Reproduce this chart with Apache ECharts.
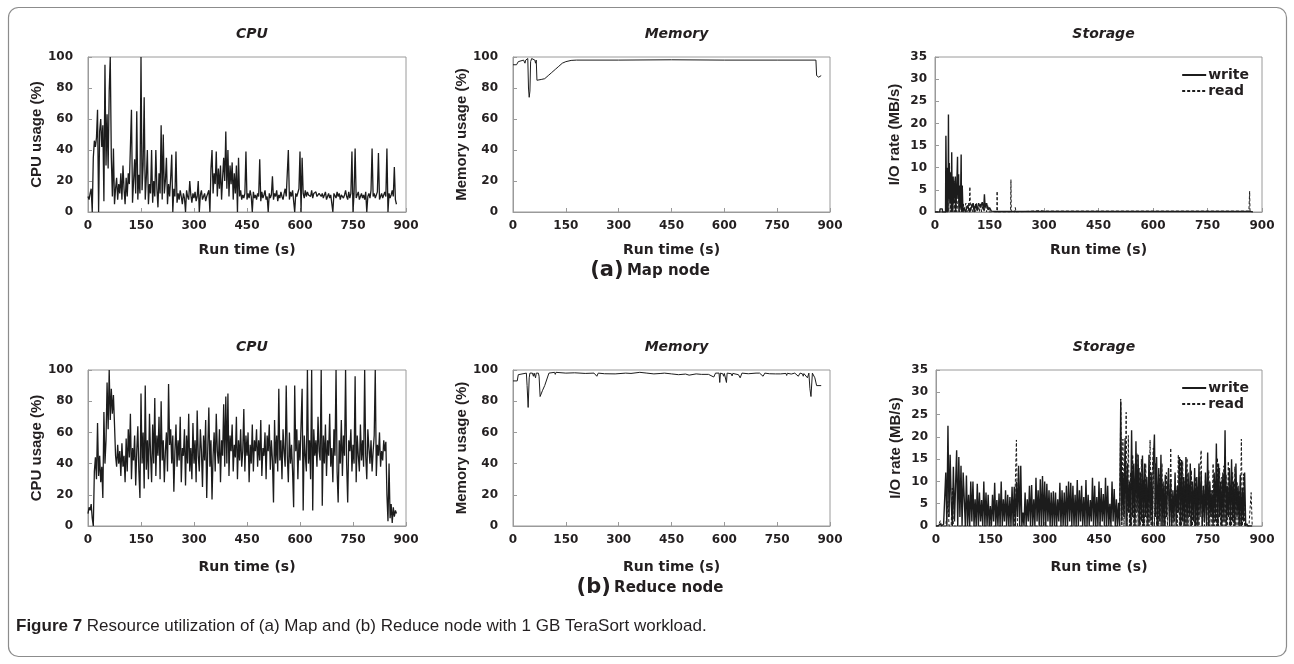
<!DOCTYPE html>
<html>
<head>
<meta charset="utf-8">
<script src="https://cdn.jsdelivr.net/npm/echarts@6/dist/echarts.min.js"></script>
<style>
html,body{margin:0;padding:0;background:#fff;}
#chart{width:1294px;height:664px;}
</style>
</head>
<body>
<div id="chart"></div>
<script>
// ---------------- DATA ----------------
const SAMPLE_STEP = 3; // seconds between samples for CPU and reduce storage arrays
const xTicks = [0, 150, 300, 450, 600, 750, 900];

// (a) Map node: CPU usage (%), one sample every 3 s
const mapCpu = [
  10, 8, 12, 15, 0, 35, 46, 42, 48, 66,
  0, 52, 60, 42, 56, 7, 95, 30, 63, 28,
  78, 100, 35, 10, 41, 5, 15, 22, 8, 18,
  12, 25, 8, 30, 15, 5, 22, 10, 25, 18,
  18, 66, 6, 20, 34, 12, 65, 8, 24, 12,
  100, 14, 30, 74, 8, 22, 40, 5, 18, 12,
  40, 6, 20, 10, 40, 15, 3, 25, 12, 56,
  8, 50, 12, 20, 35, 5, 18, 10, 22, 37,
  0, 15, 10, 39, 6, 12, 8, 14, 10, 5,
  12, 9, 0, 14, 10, 8, 20, 11, 6, 12,
  9, 13, 7, 10, 20, 0, 11, 14, 8, 10,
  12, 7, 10, 9, 14, 0, 28, 40, 12, 25,
  18, 39, 10, 28, 15, 30, 8, 22, 35, 20,
  52, 15, 40, 10, 30, 18, 32, 8, 25, 12,
  30, 0, 35, 10, 14, 8, 11, 9, 12, 39,
  8, 12, 9, 14, 10, 0, 13, 9, 11, 8,
  12, 10, 34, 7, 13, 9, 11, 14, 8, 10,
  0, 12, 9, 11, 23, 8, 12, 10, 14, 7,
  11, 9, 13, 10, 8, 12, 15, 10, 9, 40,
  8, 13, 10, 14, 7, 0, 12, 10, 9, 15,
  39, 0, 35, 12, 9, 14, 10, 13, 11, 12,
  10, 14, 9, 12, 11, 13, 10, 9, 12, 11,
  10, 12, 9, 11, 13, 8, 10, 12, 9, 11,
  10, 0, 12, 11, 9, 13, 10, 12, 8, 11,
  12, 9, 11, 14, 10, 8, 13, 9, 12, 39,
  0, 12, 41, 9, 11, 13, 8, 10, 12, 9,
  11, 8, 13, 0, 10, 12, 9, 14, 41, 10,
  12, 9, 11, 13, 38, 8, 10, 12, 9, 11,
  13, 10, 41, 0, 12, 9, 11, 14, 10, 29,
  8, 5
];

// (a) Map node: memory usage (%), [time, value]
const mapMem = [
  [0,95],[10,95],[15,97],[20,98],[30,98],[34,96],[36,98],[40,97],[42,99],[44,80],
  [46,74],[48,78],[50,97],[53,99],[58,99],[62,98],[64,96],[66,98],[68,85],[72,85],
  [80,85.5],[90,86],[100,88],[110,90],[120,92],[130,94],[140,96],[150,97],[165,97.8],[180,98],
  [300,98],[450,98.2],[600,98],[750,98],[860,98],[862,88],[868,87],[875,88]
];

// (a) Map node: storage I/O rate (MB/s), [time, value]
const mapWrite = [
  [0,0],[13,0],[14,0.7],[20,0.7],[21,0],[29,0],[30,17.2],[32,0],[34,10],[36,0],
  [37,22],[38,3],[39,11],[41,2],[43,9],[45,0],[46,13.5],[47,4],[48,8],[49,0],
  [50,8],[52,2],[54,6],[56,8],[57,0],[60,6],[62,12.5],[63,3],[65,8.5],[66,0],
  [68,6],[70,1],[72,13],[73,0],[75,6],[77,0],[80,1],[84,0],[90,1.5],[95,0],
  [100,1],[105,2],[108,0],[112,1.8],[116,0.5],[120,2],[125,1],[130,2.2],[134,0.5],[136,4],
  [138,1],[142,2],[146,0.5],[150,1],[155,0.2],[170,0.1],[300,0.1],[870,0.1],[875,0]
];
const mapRead = [
  [0,0],[38,0],[40,11],[42,0],[44,6],[46,0],[51,3],[53,0],[55,7],[56,0],
  [58,5.5],[60,0],[65,4],[67,0],[70,2],[72,0],[78,2],[80,0],[85,2],[88,0],
  [92,2],[94,0],[96,5.7],[98,0],[102,2],[104,0],[108,1.5],[110,0],[114,2],[116,0],
  [120,1.2],[122,0],[126,2],[128,0],[133,1.8],[135,0],[140,2],[142,0],[146,1.5],[148,0],
  [170,0],[171,4.7],[172,0],[208,0],[209,7.3],[210,0],[220,0],[221,1],[223,0],[290,0.3],
  [300,0.2],[864,0.2],[866,4.7],[867,0],[870,0]
];

// (b) Reduce node: CPU usage (%), one sample every 3 s
const redCpu = [
  8, 12, 10, 14, 5, 0, 35, 44, 30, 66,
  32, 45, 28, 38, 18, 73, 40, 55, 92, 62,
  100, 68, 88, 72, 84, 65, 45, 38, 52, 40,
  48, 32, 53, 38, 45, 28, 56, 35, 62, 44,
  72, 30, 50, 42, 58, 26, 48, 64, 35, 18,
  85, 40, 60, 24, 90, 36, 55, 30, 72, 46,
  28, 65, 40, 82, 32, 58, 45, 70, 30, 80,
  42, 55, 28, 48, 60, 35, 91, 52, 62, 40,
  58, 22, 48, 65, 38, 55, 42, 70, 28, 50,
  45, 62, 26, 58, 40, 72, 35, 50, 30, 66,
  40, 55, 28, 74, 45, 35, 62, 48, 25, 58,
  42, 68, 18, 50, 76, 38, 55, 17, 45, 60,
  35, 72, 48, 40, 62, 28, 55, 45, 78, 38,
  83, 40, 85, 32, 58, 48, 65, 35, 52, 44,
  70, 30, 55, 42, 62, 38, 48, 75, 35, 58,
  45, 60, 28, 52, 40, 65, 35, 55, 48, 62,
  38, 55, 42, 68, 32, 50, 45, 60, 30, 58,
  48, 65, 36, 55, 42, 15, 68, 40, 58, 35,
  88, 42, 55, 30, 62, 48, 38, 90, 45, 28,
  60, 40, 52, 35, 12, 90, 48, 62, 30, 55,
  42, 65, 88, 10, 58, 45, 35, 100, 40, 55,
  30, 100, 10, 62, 45, 55, 38, 70, 48, 42,
  100, 13, 58, 40, 65, 32, 55, 45, 72, 38,
  50, 28, 62, 45, 100, 35, 15, 55, 40, 68,
  32, 58, 45, 100, 40, 15, 55, 48, 62, 35,
  52, 40, 96, 28, 58, 45, 35, 65, 42, 55,
  38, 100, 45, 30, 62, 50, 40, 55, 35, 48,
  58, 100, 32, 52, 45, 60, 38, 48, 42, 55,
  48, 54, 20, 3, 40, 5, 14, 2, 12, 6,
  10, 8
];

// (b) Reduce node: memory usage (%), [time, value]
const redMem = [
  [0,93],[12,93],[15,97],[20,98],[38,98],[40,90],[43,76],[46,95],[48,98],[55,98],
  [58,96],[60,98],[64,95],[66,98],[72,98],[74,96],[77,83],[80,83],[84,87],[90,90],
  [102,98],[118,98.5],[120,97.2],[122,98.5],[150,98],[175,98.2],[177,97],[179,98.2],[205,97.8],[230,98],
  [238,96],[242,98],[260,97.6],[262,96.8],[264,97.8],[290,97.5],[292,96.6],[294,97.6],[320,98],[335,97.8],
  [337,96.9],[339,98],[360,98.5],[380,98],[382,97],[384,98],[400,97.5],[420,97.8],[430,98],[450,97.5],
  [452,96.5],[454,97.5],[470,97],[490,97.4],[500,96.7],[502,97.6],[520,97.5],[535,97.2],[537,96],[539,97.3],
  [555,97.2],[560,97],[570,95.5],[575,98],[585,98],[587,92],[589,98],[596,97.5],[598,96],[600,97.8],
  [604,98],[606,92],[608,98],[620,97.6],[622,96.2],[624,97.8],[640,97],[645,95],[650,98],[668,97.6],
  [670,96.5],[672,97.8],[690,98],[700,98],[710,96],[715,98],[728,97.6],[730,96.4],[732,97.8],[745,97.5],
  [747,96.3],[749,97.7],[760,97.5],[775,97.8],[777,96.5],[779,97.9],[790,97.4],[792,96.2],[794,97.6],[800,98],
  [810,96],[815,98],[822,97.5],[824,96],[826,97.7],[830,97],[836,95],[840,98],[843,88],[846,83],
  [850,98],[853,99],[857,95],[862,90],[875,90]
];

// (b) Reduce node: storage I/O rate (MB/s), one sample every 3 s
const redWrite = [
  0, 0, 0, 0.3, 0.5, 0, 0, 0.4, 0, 12,
  0, 22.5, 2, 16, 5.5, 0, 13.3, 1, 9, 17,
  0, 15.5, 2, 13.5, 0, 12, 6, 0, 11.3, 0,
  7, 0, 10, 1, 10, 0, 6, 0, 9.5, 0,
  7.5, 1, 5.8, 0, 10, 0, 7.5, 0, 7, 0,
  4.5, 0, 7, 1, 9.7, 0, 5.8, 0, 7.3, 0,
  10, 0, 6, 1, 8, 0, 7, 0, 6.5, 0,
  8.8, 0, 8.8, 0, 10, 2, 13.5, 0, 13.5, 0,
  3, 0, 7.5, 0, 6, 1, 9, 0, 9.2, 0,
  6, 0, 10.8, 1, 8, 0, 10.5, 0, 11.2, 0,
  10, 0, 9.5, 1, 8, 0, 7.5, 0, 7.8, 0,
  7.5, 0, 6, 1, 9.7, 0, 8, 0, 7.5, 0,
  9, 0, 10, 1, 9.7, 0, 9, 0, 7, 0,
  10.3, 0, 8, 1, 9, 0, 6.5, 0, 10.3, 0,
  7, 0, 5.8, 1, 10.8, 0, 9, 0, 6.5, 0,
  10, 0, 8.5, 1, 7.2, 0, 10.8, 0, 9, 0,
  5, 0, 10, 1, 8.3, 0, 6, 0, 5.2, 0,
  28, 1, 12, 2, 19.7, 0, 14, 3, 10, 0,
  21.5, 2, 14, 0, 19, 3, 16, 0, 12, 1,
  15.8, 0, 14, 2, 11, 0, 16, 1, 12, 0,
  14.2, 20.5, 2, 15.5, 0, 13, 1, 16, 0, 10,
  0, 11.5, 2, 8, 13, 0, 10.5, 0, 8, 1,
  12, 0, 9, 3, 15.5, 0, 14.8, 1, 11, 0,
  15.5, 0, 12, 2, 14, 0, 10, 1, 13, 0,
  11, 0, 14, 2, 12.3, 0, 9, 1, 12, 0,
  16.5, 0, 10, 2, 8, 0, 12, 1, 18.5, 0,
  14, 2, 10, 0, 12, 1, 21.5, 0, 9, 2,
  13, 0, 15, 1, 10, 0, 14, 2, 9, 0,
  11.5, 0, 8.5, 1, 12, 0, 0.5, 0, 0, 0,
  0, 0
];
const redRead = [
  0, 0, 0, 0, 1.2, 0, 0, 0, 0, 0,
  0, 5.5, 0, 0, 0, 8.5, 0, 0, 0, 0,
  0, 0, 0, 0, 0, 0, 0, 0, 0, 0,
  0, 0, 0, 0, 0, 0, 0, 0, 0, 0,
  0, 0, 0, 0, 0, 0, 0, 0, 0, 0,
  0, 0, 0, 0, 0, 0, 0, 0, 0, 0,
  0, 0, 0, 0, 0, 0, 0, 0, 0, 0,
  0, 0, 0, 0, 19.3, 0, 0, 0, 0, 0,
  0, 0, 0, 0, 0, 0, 0, 0, 0, 0,
  0, 0, 0, 0, 0, 0, 0, 0, 0, 0,
  0, 0, 0, 0, 0, 0, 0, 0, 0, 0,
  0, 0, 0, 0, 0, 0, 0, 0, 0, 0,
  0, 0, 0, 0, 0, 0, 0, 0, 0, 0,
  0, 0, 0, 0, 0, 0, 0, 0, 0, 0,
  0, 0, 0, 0, 0, 0, 0, 0, 0, 0,
  0, 0, 0, 0, 0, 0, 0, 0, 0, 0,
  0, 0, 0, 0, 0, 0, 0, 0, 0, 0,
  28.5, 0, 19.5, 0, 8, 25.5, 0, 20.3, 0, 12,
  0, 16, 0, 8, 0, 16.3, 0, 13, 0, 15,
  0, 10.5, 0, 14, 0, 8, 0, 19.3, 0, 12,
  17.5, 0, 14, 0, 9, 0, 11.5, 0, 14, 0,
  9, 0, 12, 0, 8, 0, 17.5, 0, 6, 0,
  0, 8, 0, 16, 0, 15, 0, 14.5, 0, 10,
  0, 15.2, 0, 9, 0, 12.5, 0, 8, 0, 11,
  0, 9, 0, 13, 17, 0, 8, 0, 11.5, 0,
  0, 12.5, 0, 8, 0, 14, 0, 10, 0, 15.3,
  0, 13, 0, 11, 0, 13.5, 0, 11.5, 0, 14.5,
  0, 9, 0, 12, 0, 13.3, 0, 10, 0, 8,
  0, 19.5, 0, 11.7, 0, 0, 0, 0, 0, 0,
  7.5, 0
];

const panelTitles = ['CPU', 'Memory', 'Storage'];
const yNames = ['CPU usage (%)', 'Memory usage (%)', 'I/O rate (MB/s)'];
const xName = 'Run time (s)';
const legendNames = ['write', 'read'];
const rowLabels = [['(a)', 'Map node'], ['(b)', 'Reduce node']];
const captionBold = 'Figure 7';
const captionText = ' Resource utilization of (a) Map and (b) Reduce node with 1 GB TeraSort workload.';

// ---------------- CHART ----------------
const toPairs = arr => arr.map((v, i) => [i * SAMPLE_STEP, v]);

const INK = '#231f20';
const FRAME = '#9a9a9a';
const WIDE = 'DejaVu Sans';
const ARIAL = '"Liberation Sans", Arial, sans-serif';

const grids = [
  {left: 88,  top: 57,  width: 318, height: 155},
  {left: 513, top: 57,  width: 317, height: 155},
  {left: 935, top: 57,  width: 327, height: 155},
  {left: 88,  top: 370, width: 318, height: 156},
  {left: 513, top: 370, width: 317, height: 156},
  {left: 936, top: 370, width: 326, height: 156}
].map(g => Object.assign({show: true, borderColor: FRAME, borderWidth: 1, backgroundColor: 'transparent'}, g));

const nameGaps = [43, 44, 33];
const yLabelMargins = [15, 15, 8];
const xAxes = grids.map((g, i) => ({
  gridIndex: i, type: 'value', min: xTicks[0], max: xTicks[xTicks.length - 1], interval: 150,
  axisLine: {show: true, lineStyle: {color: FRAME, width: 1}},
  axisTick: {show: true, inside: true, length: 4, lineStyle: {color: FRAME}},
  axisLabel: {color: INK, fontFamily: WIDE, fontWeight: 'bold', fontSize: 12, margin: 8},
  splitLine: {show: false},
  name: xName, nameLocation: 'middle', nameGap: i < 3 ? 31 : 34,
  nameTextStyle: {color: INK, fontFamily: WIDE, fontWeight: 'bold', fontSize: 14}
}));
const yAxes = grids.map((g, i) => {
  const k = i % 3;
  const isStorage = k === 2;
  return {
    gridIndex: i, type: 'value', min: 0, max: isStorage ? 35 : 100, interval: isStorage ? 5 : 20,
    axisLine: {show: true, lineStyle: {color: FRAME, width: 1}},
    axisTick: {show: true, inside: true, length: 4, lineStyle: {color: FRAME}},
    axisLabel: {color: INK, fontFamily: WIDE, fontWeight: 'bold', fontSize: 12, margin: yLabelMargins[k]},
    splitLine: {show: false},
    name: yNames[k], nameLocation: 'middle', nameGap: nameGaps[k],
    nameTextStyle: {color: INK, fontFamily: ARIAL, fontWeight: 'bold', fontSize: 15}
  };
});

const titles = grids.map((g, i) => ({
  text: panelTitles[i % 3],
  left: g.left + g.width / 2, top: g.top - 35, textAlign: 'center',
  textStyle: {color: INK, fontFamily: WIDE, fontWeight: 'bold', fontStyle: 'italic', fontSize: 14}
}));

const lineBase = {type: 'line', symbol: 'none', showSymbol: false, animation: false, silent: true,
  itemStyle: {color: '#1c1c1c'}};
const solid = (w) => ({color: '#1c1c1c', width: w, type: 'solid'});
const dashed = {color: '#1c1c1c', width: 1, type: [3, 2]};

const series = [
  Object.assign({}, lineBase, {name: 'cpuMap', xAxisIndex: 0, yAxisIndex: 0, data: toPairs(mapCpu), lineStyle: solid(1.3)}),
  Object.assign({}, lineBase, {name: 'memMap', xAxisIndex: 1, yAxisIndex: 1, data: mapMem, lineStyle: solid(1)}),
  Object.assign({}, lineBase, {name: 'read', xAxisIndex: 2, yAxisIndex: 2, data: mapRead, lineStyle: dashed}),
  Object.assign({}, lineBase, {name: 'write', xAxisIndex: 2, yAxisIndex: 2, data: mapWrite, lineStyle: solid(1.4)}),
  Object.assign({}, lineBase, {name: 'cpuRed', xAxisIndex: 3, yAxisIndex: 3, data: toPairs(redCpu), lineStyle: solid(1.3)}),
  Object.assign({}, lineBase, {name: 'memRed', xAxisIndex: 4, yAxisIndex: 4, data: redMem, lineStyle: solid(1)}),
  Object.assign({}, lineBase, {name: 'write', xAxisIndex: 5, yAxisIndex: 5, data: toPairs(redWrite), lineStyle: solid(1.4)}),
  Object.assign({}, lineBase, {name: 'read', xAxisIndex: 5, yAxisIndex: 5, data: toPairs(redRead), lineStyle: dashed})
];

const legendBase = {
  data: legendNames, orient: 'vertical', right: 40, itemWidth: 24, itemHeight: 10, itemGap: 2,
  icon: 'inherit', itemStyle: {opacity: 0},
  selectedMode: false, backgroundColor: 'transparent',
  textStyle: {color: INK, fontFamily: WIDE, fontWeight: 'bold', fontSize: 14, padding: [0, 0, 0, -3]}
};
const legends = [
  Object.assign({}, legendBase, {top: 63}),
  Object.assign({}, legendBase, {top: 376})
];

const graphics = [
  {type: 'rect', shape: {x: 8.5, y: 7.5, width: 1278, height: 649, r: 10},
   style: {fill: 'none', stroke: '#8c8c8c', lineWidth: 1.2}, silent: true},
  {type: 'text', x: 650, y: 271, style: {
    text: '{a|' + rowLabels[0][0] + '} {b|' + rowLabels[0][1] + '}', align: 'center', verticalAlign: 'middle',
    rich: {a: {fontFamily: WIDE, fontWeight: 'bold', fontSize: 21, fill: INK},
           b: {fontFamily: WIDE, fontWeight: 'bold', fontSize: 15, fill: INK}}}},
  {type: 'text', x: 650, y: 588, style: {
    text: '{a|' + rowLabels[1][0] + '} {b|' + rowLabels[1][1] + '}', align: 'center', verticalAlign: 'middle',
    rich: {a: {fontFamily: WIDE, fontWeight: 'bold', fontSize: 21, fill: INK},
           b: {fontFamily: WIDE, fontWeight: 'bold', fontSize: 15, fill: INK}}}},
  {type: 'text', x: 16, y: 626, style: {
    text: '{f|' + captionBold + '}{r|' + captionText + '}', align: 'left', verticalAlign: 'middle',
    rich: {f: {fontFamily: ARIAL, fontWeight: 'bold', fontSize: 17, fill: INK},
           r: {fontFamily: ARIAL, fontSize: 17, fill: INK}}}}
];

const chart = echarts.init(document.getElementById('chart'), null, {renderer: 'canvas'});
chart.setOption({
  animation: false,
  backgroundColor: '#fff',
  title: titles,
  grid: grids,
  xAxis: xAxes,
  yAxis: yAxes,
  legend: legends,
  series: series,
  graphic: graphics
});
</script>
</body>
</html>
